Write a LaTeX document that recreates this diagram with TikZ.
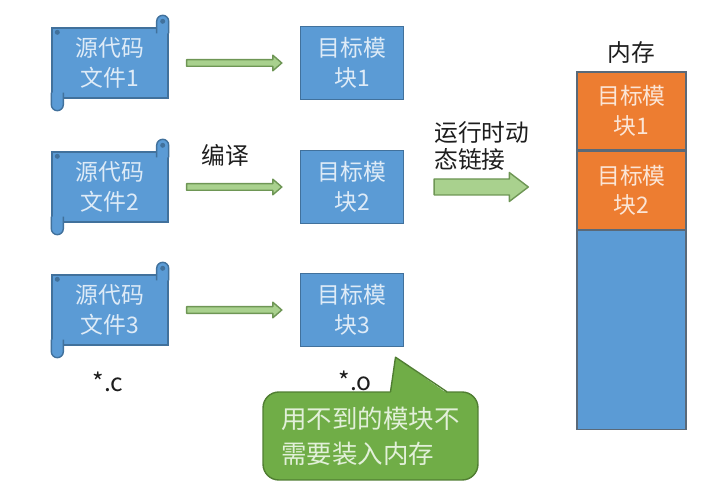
\documentclass[tikz,border=0pt]{standalone}
\usepackage{fontspec}
\setmainfont{Noto Sans CJK SC}
\usepackage{tikz}
\usetikzlibrary{positioning, calc}
\definecolor{bleuMod}{RGB}{91, 155, 213}
\definecolor{bleuBord}{RGB}{65, 113, 156}
\definecolor{texteClair}{RGB}{222, 235, 247}
\definecolor{orangeMod}{RGB}{237, 125, 49}
\definecolor{texteOrange}{RGB}{251, 229, 214}
\definecolor{grisBord}{RGB}{90, 105, 120}
\definecolor{vertNote}{RGB}{112, 173, 71}
\definecolor{vertBord}{RGB}{80, 126, 50}
\definecolor{texteVert}{RGB}{226, 240, 217}
\definecolor{vertFleche}{RGB}{169, 209, 142}
\definecolor{vertFlecheBord}{RGB}{110, 150, 85}
\definecolor{griFonce}{RGB}{30, 30, 30}

\begin{document}
\begin{tikzpicture}[x=0.02cm, y=-0.02cm,
  src/.style={rectangle, fill=bleuMod, draw=bleuBord, line width=0.8pt,
    minimum width=2.32cm, minimum height=1.4cm, align=center,
    text=texteClair, font=\fontsize{13}{17}\selectfont},
  curl/.style={fill=bleuMod, draw=bleuBord, line width=0.8pt},
  mod/.style={rectangle, fill=bleuMod, draw=bleuBord, line width=0.8pt,
    minimum width=2.06cm, minimum height=1.46cm, align=center,
    text=texteClair, font=\fontsize{13}{17}\selectfont},
  mem/.style={rectangle, draw=grisBord, line width=0.8pt,
    minimum width=2.18cm, align=center, font=\fontsize{13}{17}\selectfont},
  fin/.style={fill=vertFleche, draw=vertFlecheBord, line width=0.8pt,
    line join=round},
  lbl/.style={font=\fontsize{13.5}{15.5}\selectfont, text=griFonce},
  note/.style={rectangle, rounded corners=9pt, fill=vertNote,
    draw=vertBord, line width=0.8pt, minimum width=4.3cm,
    minimum height=1.76cm, align=left, text=texteVert,
    font=\fontsize{14.5}{20}\selectfont},
]
\useasboundingbox (0,0) rectangle (709,499);

% source files
\node[src] (src1) at (110, 63)  {源代码\\文件1};
\node[src] (src2) at (110, 187) {源代码\\文件2};
\node[src] (src3) at (110, 310) {源代码\\文件3};
\foreach \s in {src1,src2,src3}{
  \draw[curl] ($(\s.north east)+(-12,6)$) -- ($(\s.north east)+(-12,-6)$)
    arc[start angle=180, end angle=0, radius=0.12cm]
    -- ($(\s.north east)+(0,6)$);
  \draw[curl] ($(\s.south west)+(12,-6)$) -- ($(\s.south west)+(12,6)$)
    arc[start angle=0, end angle=-180, radius=0.12cm]
    -- ($(\s.south west)+(0,-6)$);
  \fill[bleuBord] ($(\s.north east)+(-6,-6)$) circle[radius=0.05cm];
  \fill[bleuBord] ($(\s.north west)+(6,5)$) circle[radius=0.05cm];
}

% object modules
\node[mod] (mod1) at (352, 63)  {目标模\\块1};
\node[mod] (mod2) at (352, 187) {目标模\\块2};
\node[mod] (mod3) at (352, 310) {目标模\\块3};

% compile arrows
\draw[fin] ($(src1.east)+(18,-3.3)$) -- ($(mod1.west)+(-27,-3.3)$)
  -- ($(mod1.west)+(-27,-7.8)$) -- ($(mod1.west)+(-18,0)$)
  -- ($(mod1.west)+(-27,7.8)$) -- ($(mod1.west)+(-27,3.3)$)
  -- ($(src1.east)+(18,3.3)$) -- cycle;
\draw[fin] ($(src2.east)+(18,-3.3)$) -- ($(mod2.west)+(-27,-3.3)$)
  node[pos=0.45, above=6pt, lbl] (cc) {编译}
  -- ($(mod2.west)+(-27,-7.8)$) -- ($(mod2.west)+(-18,0)$)
  -- ($(mod2.west)+(-27,7.8)$) -- ($(mod2.west)+(-27,3.3)$)
  -- ($(src2.east)+(18,3.3)$) -- cycle;
\draw[fin] ($(src3.east)+(18,-3.3)$) -- ($(mod3.west)+(-27,-3.3)$)
  -- ($(mod3.west)+(-27,-7.8)$) -- ($(mod3.west)+(-18,0)$)
  -- ($(mod3.west)+(-27,7.8)$) -- ($(mod3.west)+(-27,3.3)$)
  -- ($(src3.east)+(18,3.3)$) -- cycle;

\node[lbl, font=\fontsize{14}{17}\selectfont] (extc) at ($(src3.south)+(-2,36)$) {*.c};
\node[lbl, font=\fontsize{14}{17}\selectfont] (exto) at ($(mod3.south)+(3,34)$) {*.o};

% memory
\node[mem, fill=orangeMod, text=texteOrange, minimum height=1.56cm]
  (mem1) at (631.5, 111) {目标模\\块1};
\node[mem, fill=orangeMod, text=texteOrange, minimum height=1.56cm,
  below=0pt of mem1] (mem2) {目标模\\块2};
\node[mem, fill=bleuMod, minimum height=3.98cm, below=0pt of mem2] (mem3) {};
\node[lbl, above=1pt of mem1] (memt) {内存};

% run-time linking
\node[lbl, align=left, anchor=north west, inner sep=0pt] (rtl) at (434, 121)
  {运行时动\\态链接};
\draw[fin] ($(mod2.east)+(30,-8)$) -- ($(mod2.east -| mem2.west)+(-67,-8)$)
  -- ($(mod2.east -| mem2.west)+(-67,-14.5)$)
  -- ($(mod2.east -| mem2.west)+(-48,0)$)
  -- ($(mod2.east -| mem2.west)+(-67,14.5)$)
  -- ($(mod2.east -| mem2.west)+(-67,8)$)
  -- ($(mod2.east)+(30,8)$) -- cycle;

% callout
\node[note] (note) at (370.5, 436) {用不到的模块不\\需要装入内存};
\fill[vertNote] ($(note.north)+(20,2)$) -- ($(mod3.south)+(43.5,10)$)
  -- ($(note.north)+(76.5,2)$) -- cycle;
\draw[vertBord, line width=0.8pt, line join=round]
  ($(note.north)+(20,0.5)$) -- ($(mod3.south)+(43.5,10)$)
  -- ($(note.north)+(76.5,0.5)$);
\end{tikzpicture}
\end{document}
